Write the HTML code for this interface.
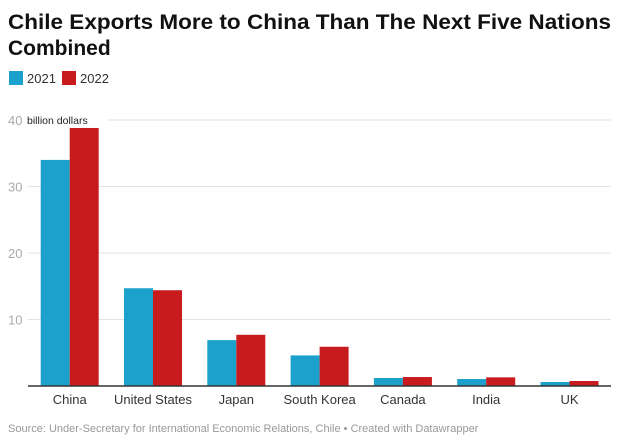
<!DOCTYPE html>
<html><head><meta charset="utf-8"><style>
body{margin:0;background:#fff;font-family:"Liberation Sans",sans-serif;}
svg{display:block}
</style></head><body>
<svg width="624" height="444">
<text x="8" y="29" font-size="21" font-weight="bold" fill="#111" textLength="603" lengthAdjust="spacingAndGlyphs">Chile Exports More to China Than The Next Five Nations</text>
<text x="8" y="55" font-size="21" font-weight="bold" fill="#111">Combined</text>
<rect x="9" y="71" width="14" height="14" fill="#1ba1cc"/>
<text x="27" y="83" font-size="13" fill="#333">2021</text>
<rect x="62" y="71" width="14" height="14" fill="#c81b1e"/>
<text x="80" y="83" font-size="13" fill="#333">2022</text>
<g id="grid"></g>
<g id="bars"></g>
<g id="xlabels"></g>
<line x1="28" x2="611" y1="386" y2="386" stroke="#333" stroke-width="1.5"/>
<text x="8" y="432" font-size="11" fill="#999">Source: Under-Secretary for International Economic Relations, Chile • Created with Datawrapper</text>
</svg>
<script>
const categories=["China","United States","Japan","South Korea","Canada","India","UK"];
const values2021=[34,14.7,6.9,4.6,1.2,1.05,0.6];
const values2022=[38.8,14.4,7.7,5.9,1.35,1.3,0.75];
const ticks=[10,20,30,40];
const NS="http://www.w3.org/2000/svg";
const y0=386,y40=120;
function y(v){return y0-(v/40)*(y0-y40);}
function gx(i){return 40.7+i*83.3;}
const bw=29;
function mk(t,a,parent){const e=document.createElementNS(NS,t);for(const k in a)e.setAttribute(k,a[k]);document.getElementById(parent).appendChild(e);return e;}
ticks.forEach(t=>{
  const l=mk("line",{x1:28,x2:611,y1:y(t),y2:y(t),stroke:"#e3e3e3","stroke-width":1},"grid");
  
  
  const tx=mk("text",{x:8,y:y(t)+5,"font-size":13,fill:"#aaa"},"grid");
  tx.textContent=t;
  
  
});
const u=mk("rect",{x:24,y:112,width:84,height:14,fill:"#fff"},"grid");


const ut=mk("text",{x:27,y:124,"font-size":10.5,fill:"#222"},"grid");
ut.textContent="billion dollars";


categories.forEach((c,i)=>{
  const b1=mk("rect",{x:gx(i),y:y(values2021[i]),width:bw,height:y0-y(values2021[i]),fill:"#1ba1cc"},"bars");
  
  
  const b2=mk("rect",{x:gx(i)+bw,y:y(values2022[i]),width:bw,height:y0-y(values2022[i]),fill:"#c81b1e"},"bars");
  
  
  const t=mk("text",{x:gx(i)+bw,y:404,"font-size":13,fill:"#333","text-anchor":"middle"},"xlabels");
  t.textContent=c;
  
  
});
</script>
</body></html>
